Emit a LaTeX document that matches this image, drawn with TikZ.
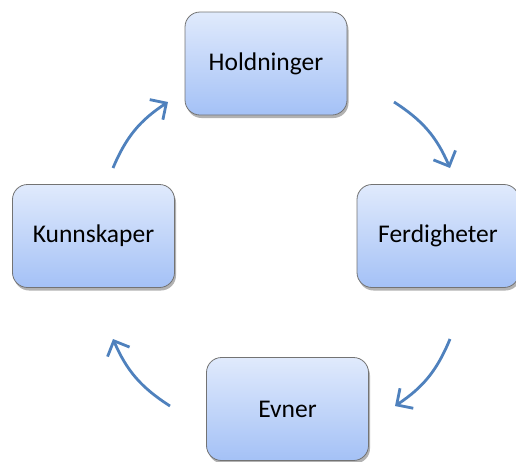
\documentclass[tikz,border=0pt]{standalone}
\usepackage{fontspec}
\setmainfont{Carlito}
\usetikzlibrary{arrows.meta,shadows}
\definecolor{boxtop}{RGB}{224,234,252}
\definecolor{boxbot}{RGB}{164,193,246}
\definecolor{arrowblue}{RGB}{79,129,189}
\begin{document}
\begin{tikzpicture}[x=1pt,y=1pt,
  boks/.style={rectangle, rounded corners=15pt, minimum width=162pt, minimum height=103pt,
    draw=black!55, line width=0.8pt, top color=boxtop, bottom color=boxbot,
    drop shadow={shadow xshift=1.5pt, shadow yshift=-3pt, opacity=0.3, fill=black},
    font=\fontsize{25.5}{30}\selectfont},
  pil/.style={draw=arrowblue, line width=2.8pt, -{Straight Barb[length=12pt,width=24pt]}, bend left=17}]
\useasboundingbox (0,0) rectangle (516,-461);
\clip (0,0) rectangle (516,-461);
\node[boks] (hold) at (266,-63.5){Holdninger};
\node[boks] (kunn) at (93.5,-236){Kunnskaper};
\node[boks] (ferd) at (438,-236){Ferdigheter};
\node[boks] (evne) at (287.5,-409){Evner};
\coordinate (p1a) at (394,-102);
\coordinate (p1b) at (450,-168);
\coordinate (p2a) at (450,-339);
\coordinate (p2b) at (395,-406);
\coordinate (p3a) at (170,-406);
\coordinate (p3b) at (113,-339);
\coordinate (p4a) at (113,-168);
\coordinate (p4b) at (168,-102);
\draw[pil] (p1a) to (p1b);
\draw[pil] (p2a) to (p2b);
\draw[pil] (p3a) to (p3b);
\draw[pil] (p4a) to (p4b);

\end{tikzpicture}
\end{document}
